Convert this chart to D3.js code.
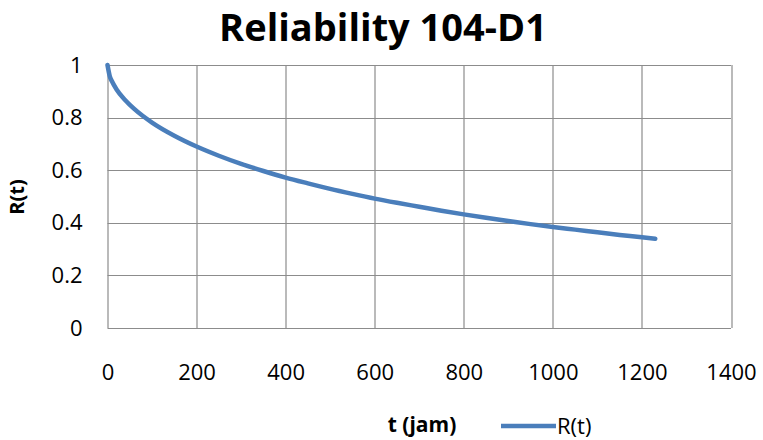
<!DOCTYPE html>
<html>
<head>
<meta charset="utf-8">
<script src="https://cdn.jsdelivr.net/npm/d3@7"></script>
<style>
  body { margin: 0; background: #fff; }
  text { font-family: "Open Sans", "Noto Sans", sans-serif; fill: #000; }
</style>
</head>
<body>
<div id="chart"></div>
<script>
// Values
var tValues = [0, 5, 10, 20, 40, 60, 100, 150, 200, 250, 300, 350, 400, 450, 500, 550, 600,
  650, 700, 750, 800, 850, 900, 950, 1000, 1050, 1100, 1150, 1200, 1230];
var rValues = [1, 0.958, 0.938, 0.908, 0.866, 0.833, 0.781, 0.731, 0.69, 0.655, 0.624, 0.597, 0.572, 0.55, 0.529, 0.51, 0.492,
  0.476, 0.461, 0.446, 0.432, 0.419, 0.407, 0.395, 0.384, 0.374, 0.364, 0.354, 0.345, 0.339];
var xTicks = [0, 200, 400, 600, 800, 1000, 1200, 1400];
var yTicks = [0, 0.2, 0.4, 0.6, 0.8, 1];

var data = tValues.map(function(t, i) { return { t: t, r: rValues[i] }; });

var svgWidth = 763, svgHeight = 440;
var margin = { top: 65, right: 32, bottom: 112, left: 107.5 };
var chartWidth = svgWidth - margin.left - margin.right;
var chartHeight = svgHeight - margin.top - margin.bottom;

var svg = d3.select("#chart").append("svg")
  .attr("width", svgWidth)
  .attr("height", svgHeight);

var chartGroup = svg.append("g")
  .attr("transform", `translate(${margin.left}, ${margin.top})`);

var xScale = d3.scaleLinear().domain([0, 1400]).range([0, chartWidth]);
var yScale = d3.scaleLinear().domain([0, 1]).range([chartHeight, 0]);

// gridlines
chartGroup.append("g").selectAll("line")
  .data(xTicks)
  .enter()
  .append("line")
  .attr("x1", d => Math.round(xScale(d)) + 0.5)
  .attr("x2", d => Math.round(xScale(d)) + 0.5)
  .attr("y1", 0)
  .attr("y2", chartHeight)
  .attr("stroke", "#8c8c8c")
  .attr("stroke-width", 1.2);

chartGroup.append("g").selectAll("line")
  .data(yTicks)
  .enter()
  .append("line")
  .attr("x1", 0)
  .attr("x2", chartWidth)
  .attr("y1", d => Math.round(yScale(d)) + 0.5)
  .attr("y2", d => Math.round(yScale(d)) + 0.5)
  .attr("stroke", "#8c8c8c")
  .attr("stroke-width", 1.2);

// axes (labels only)
var bottomAxis = d3.axisBottom(xScale).tickValues(xTicks).tickSize(0).tickPadding(36).tickFormat(d3.format("d"));
var leftAxis = d3.axisLeft(yScale).tickValues(yTicks).tickSize(0).tickPadding(25).tickFormat(d => d);

var gx = chartGroup.append("g")
  .attr("transform", `translate(0, ${chartHeight})`)
  .call(bottomAxis);
gx.select(".domain").remove();
gx.selectAll("text").attr("font-size", 22).attr("font-family", "Open Sans");

var gy = chartGroup.append("g").call(leftAxis);
gy.select(".domain").remove();
gy.selectAll("text").attr("font-size", 22).attr("font-family", "Open Sans");

// the line
var line = d3.line()
  .x(d => xScale(d.t))
  .y(d => yScale(d.r))
  .curve(d3.curveMonotoneX);

chartGroup.append("path")
  .datum(data)
  .attr("fill", "none")
  .attr("stroke", "#4a7ebb")
  .attr("stroke-width", 4.5)
  .attr("stroke-linecap", "round")
  .attr("d", line);

// title
svg.append("text")
  .attr("x", 383)
  .attr("y", 41)
  .attr("text-anchor", "middle")
  .attr("font-size", 38)
  .attr("font-weight", "bold")
  .text("Reliability 104-D1");

// axis titles
svg.append("text")
  .attr("transform", "translate(24, 197) rotate(-90)")
  .attr("text-anchor", "middle")
  .attr("font-size", 20)
  .attr("font-weight", "bold")
  .text("R(t)");

svg.append("text")
  .attr("x", 422)
  .attr("y", 432)
  .attr("text-anchor", "middle")
  .attr("font-size", 21)
  .attr("font-weight", "bold")
  .text("t (jam)");

// legend
var legend = svg.append("g").attr("transform", "translate(501, 426)");
legend.append("line")
  .attr("x1", 0).attr("x2", 55)
  .attr("y1", 0).attr("y2", 0)
  .attr("stroke", "#4a7ebb")
  .attr("stroke-width", 4.5);
legend.append("text")
  .attr("x", 56)
  .attr("y", 8)
  .attr("font-size", 22)
  .text("R(t)");
</script>
</body>
</html>
